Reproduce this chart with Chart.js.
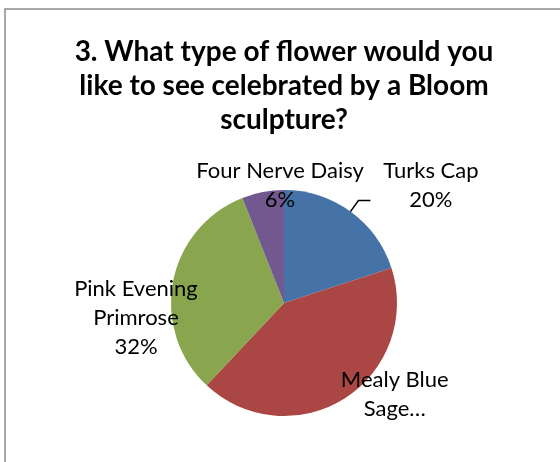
<!DOCTYPE html>
<html>
<head>
<meta charset="utf-8">
<script src="https://cdn.jsdelivr.net/npm/chart.js@4"></script>
<style>
  html, body { margin: 0; padding: 0; background: #fff; }
  #wrap { width: 560px; height: 462px; }
</style>
</head>
<body>
<div id="wrap"><canvas id="chart" width="560" height="462"></canvas></div>
<script>
const TITLE_LINES = ["3. What type of flower would you", "like to see celebrated by a Bloom", "sculpture?"];

const categories = ["Turks Cap", "Mealy Blue Sage", "Pink Evening Primrose", "Four Nerve Daisy"];
const values = [20, 42, 32, 6];
const colors = ["#4572A7", "#AA4643", "#89A54E", "#71588F"];

// how Excel wrapped / cut the data labels
const labelLines = [["Turks Cap"], ["Mealy Blue", "Sage…"], ["Pink Evening", "Primrose"], ["Four Nerve Daisy"]];
const showPct = [true, false, true, true];
// label block centre relative to pie centre, in radii
const labelOffset = [[1.30, -1.04], [0.98, 0.81], [-1.31, 0.13], [-0.035, -1.04]];
const leaderOn = [true, false, false, false];

const LABEL_FONT = "22px Lato";
const LABEL_LH = 29;

function pct(i) {
  const total = values.reduce((a, b) => a + b, 0);
  return Math.round(values[i] / total * 100) + "%";
}

const frame = {
  id: "frame",
  beforeDraw(chart) {
    const ctx = chart.ctx;
    ctx.save();
    ctx.strokeStyle = "#8c8c8c";
    ctx.lineWidth = 1.5;
    ctx.beginPath();
    ctx.moveTo(5, chart.height);
    ctx.lineTo(5, 9);
    ctx.lineTo(chart.width, 9);
    ctx.stroke();
    ctx.restore();
  }
};

const sliceLabels = {
  id: "sliceLabels",
  afterDatasetsDraw(chart) {
    const ctx = chart.ctx;
    const arcs = chart.getDatasetMeta(0).data;
    ctx.save();
    ctx.font = LABEL_FONT;
    ctx.fillStyle = "#000";
    ctx.textAlign = "center";
    ctx.textBaseline = "middle";
    arcs.forEach((arc, i) => {
      const r = arc.outerRadius;
      const lines = labelLines[i].slice();
      if (showPct[i]) lines.push(pct(i));
      const cx = arc.x + labelOffset[i][0] * r;
      const cy = arc.y + labelOffset[i][1] * r;
      const y0 = cy - (lines.length - 1) * LABEL_LH / 2;
      lines.forEach((t, k) => ctx.fillText(t, cx, y0 + k * LABEL_LH));

      if (leaderOn[i]) {
        const mid = (arc.startAngle + arc.endAngle) / 2;
        const sx = arc.x + r * Math.cos(mid);
        const sy = arc.y + r * Math.sin(mid);
        ctx.strokeStyle = "#000";
        ctx.lineWidth = 1.5;
        ctx.beginPath();
        ctx.moveTo(sx, sy);
        ctx.lineTo(sx + 8, sy - 11);
        ctx.lineTo(sx + 20, sy - 11);
        ctx.stroke();
      }
    });
    ctx.restore();
  }
};

new Chart(document.getElementById("chart"), {
  type: "pie",
  data: {
    labels: categories,
    datasets: [{
      data: values,
      backgroundColor: colors,
      borderWidth: 0
    }]
  },
  options: {
    responsive: false,
    animation: false,
    devicePixelRatio: 1,
    layout: { padding: { top: 0, left: 8, right: 0, bottom: 46 } },
    plugins: {
      legend: { display: false },
      tooltip: { enabled: false },
      title: {
        display: true,
        text: TITLE_LINES,
        color: "#000",
        font: { family: "Lato", size: 28, weight: "bold", lineHeight: 34 / 28 },
        padding: { top: 35, bottom: 53 }
      }
    }
  },
  plugins: [frame, sliceLabels]
});
</script>
</body>
</html>
